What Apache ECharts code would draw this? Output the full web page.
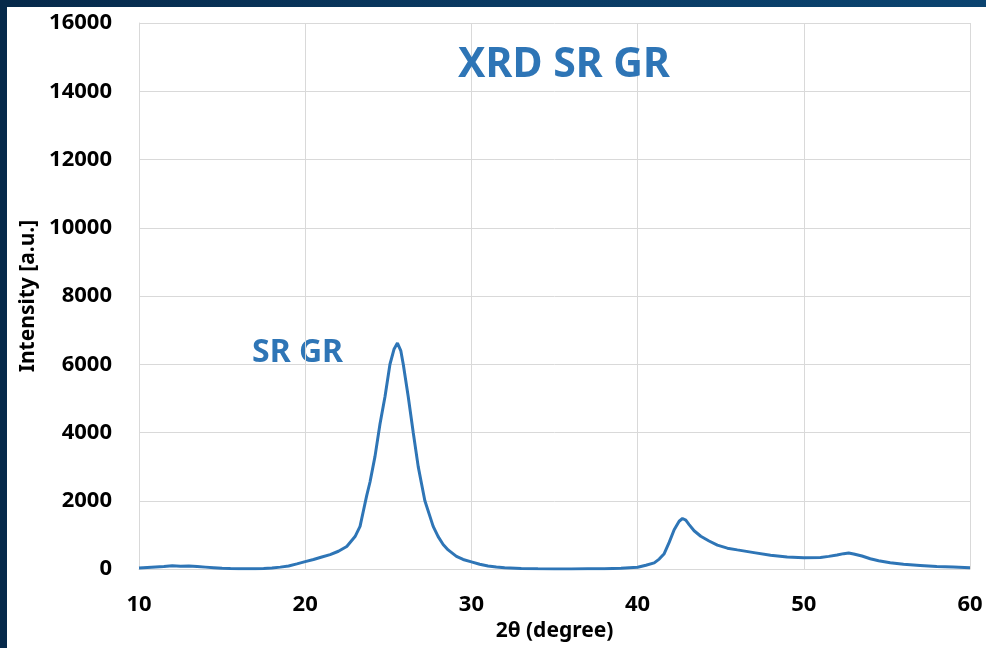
<!DOCTYPE html>
<html>
<head>
<meta charset="utf-8">
<script src="https://cdn.jsdelivr.net/npm/echarts@6/dist/echarts.min.js"></script>
<style>
html,body{margin:0;padding:0;width:986px;height:648px;overflow:hidden;
  background:linear-gradient(90deg,#06294a 0%,#0a3a62 50%,#0b4470 100%);}
#chart{position:absolute;left:7px;top:7px;width:979px;height:641px;background:#fff;}
</style>
</head>
<body>
<div id="chart"></div>
<script>
const chartTitle = 'XRD SR GR';
const seriesName = 'SR GR';
const xTicks = [10, 20, 30, 40, 50, 60];
const yTicks = [0, 2000, 4000, 6000, 8000, 10000, 12000, 14000, 16000];
const twoTheta = [10,10.5,11,11.5,12,12.5,13,13.5,14,14.5,15,15.5,16,16.5,17,17.5,18,18.5,19,19.5,
  20,20.5,21,21.5,22,22.5,23,23.3,23.5,23.7,23.9,24.2,24.5,24.8,25.1,25.35,25.55,25.75,25.9,
  26.2,26.5,26.8,27.0,27.2,27.5,27.7,28.0,28.3,28.6,29.1,29.5,30,30.5,31,31.5,32,33,34,35,36,37,38,39,39.5,
  40,40.5,41,41.3,41.6,41.9,42.2,42.5,42.7,42.9,43.1,43.4,43.8,44.3,44.8,45.4,46,47,48,49,
  50,51,51.5,52,52.4,52.7,53,53.5,54,54.5,55.2,56,57,58,59,60];
const intensity = [30,45,60,70,95,80,85,70,55,40,25,15,8,5,10,15,30,55,90,150,
  215,280,350,420,520,660,950,1250,1700,2150,2550,3300,4250,5050,6000,6450,6620,6400,6000,
  5050,4000,3000,2500,2000,1550,1250,950,720,560,370,280,210,140,90,60,35,15,5,0,0,5,10,25,40,
  50,110,180,290,450,780,1150,1400,1480,1430,1300,1120,960,820,700,610,560,480,400,350,
  330,340,370,410,450,470,440,380,300,240,185,140,105,70,55,40];

const data = twoTheta.map((t, i) => [t, intensity[i]]);
const font = 'Noto Sans';
const chart = echarts.init(document.getElementById('chart'));
chart.setOption({
  animation: false,
  textStyle: {fontFamily: font},
  title: {
    text: chartTitle, left: 552, top: 33, textAlign: 'center',
    textStyle: {fontFamily: font, fontSize: 41, fontWeight: 'bold', color: '#2E75B6'}
  },
  grid: {left: 132, right: 16, top: 16, bottom: 79},
  xAxis: {
    type: 'value', min: xTicks[0], max: xTicks[xTicks.length - 1], interval: 10,
    name: '2θ (degree)', nameLocation: 'middle', nameGap: 52,
    nameTextStyle: {fontFamily: font, fontSize: 21, fontWeight: 'bold', color: '#000'},
    axisLine: {show: true, lineStyle: {color: '#d9d9d9', width: 1}},
    axisTick: {show: false},
    axisLabel: {margin: 25, fontFamily: font, fontSize: 22, fontWeight: 'bold', color: '#000',
      formatter: v => String(v)},
    splitLine: {show: true, lineStyle: {color: '#d9d9d9', width: 1}}
  },
  yAxis: {
    type: 'value', min: yTicks[0], max: yTicks[yTicks.length - 1], interval: 2000,
    name: 'Intensity [a.u.]', nameLocation: 'middle', nameGap: 97, nameRotate: 90,
    nameTextStyle: {fontFamily: font, fontSize: 21, fontWeight: 'bold', color: '#000'},
    axisLine: {show: true, lineStyle: {color: '#d9d9d9', width: 1}},
    axisTick: {show: false},
    axisLabel: {margin: 27, fontFamily: font, fontSize: 22, fontWeight: 'bold', color: '#000',
      formatter: v => String(v)},
    splitLine: {show: true, lineStyle: {color: '#d9d9d9', width: 1}}
  },
  graphic: [{
    type: 'text', left: 245, top: 330,
    style: {text: seriesName, font: 'bold 32px "Noto Sans"', fill: '#2E75B6'}
  }],
  series: [{
    name: seriesName, type: 'line', data: data, showSymbol: false, symbol: 'none',
    lineStyle: {color: '#2E75B6', width: 3}
  }]
});
</script>
</body>
</html>
